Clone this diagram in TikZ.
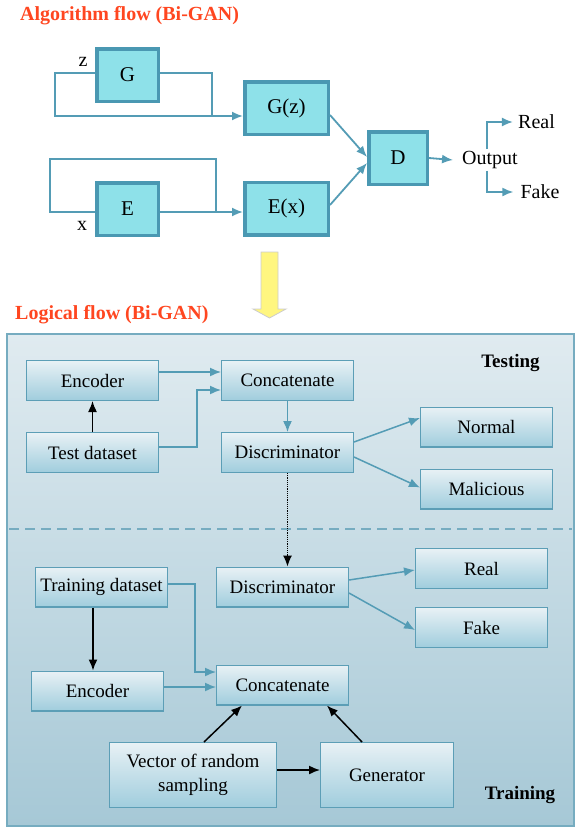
\documentclass[tikz,border=0pt]{standalone}
\usepackage{fontspec}
\setmainfont{LiberationSerif}[Extension=.ttf, UprightFont=*-Regular, BoldFont=*-Bold, ItalicFont=*-Italic, BoldItalicFont=*-BoldItalic]
\usetikzlibrary{positioning,calc,arrows.meta,shapes}

\definecolor{titlered}{RGB}{255,70,32}
\definecolor{gboxfill}{RGB}{142,225,233}
\definecolor{gboxline}{RGB}{74,152,178}
\definecolor{flowline}{RGB}{84,156,181}
\definecolor{paneltop}{RGB}{224,235,240}
\definecolor{panelbot}{RGB}{166,200,214}
\definecolor{panelline}{RGB}{118,172,192}
\definecolor{sboxtop}{RGB}{232,241,245}
\definecolor{sboxbot}{RGB}{160,205,221}
\definecolor{sboxline}{RGB}{92,158,182}
\definecolor{arrowyellow}{RGB}{255,246,128}

\begin{document}
\begin{tikzpicture}[
        x=1pt, y=-1pt,
        tip/.tip={Latex[length=11pt,width=9pt]},
        >=tip,
        title/.style={anchor=west, inner sep=0pt, font=\fontsize{20}{20}\selectfont\bfseries, text=titlered},
        gbox/.style={draw=gboxline, line width=3.5pt, fill=gboxfill, minimum height=52.5pt, inner sep=0pt, font=\fontsize{21}{21}\selectfont},
        sbox/.style={draw=sboxline, line width=1.3pt, top color=sboxtop, bottom color=sboxbot, minimum width=131.7pt, minimum height=39.7pt, inner sep=0pt, align=center, font=\fontsize{19}{24}\selectfont},
        plain/.style={inner sep=2pt, font=\fontsize{20}{20}\selectfont},
        zonetag/.style={inner sep=0pt, font=\fontsize{19}{19}\selectfont\bfseries},
        flow/.style={draw=flowline, line width=1.8pt},
        link/.style={draw=flowline, line width=1.5pt},
        blk/.style={draw=black, line width=1.5pt}
      ]
      \useasboundingbox (0,0) rectangle (576,827);

      % algorithm flow
      \node (algo) at (20,16) [title] {Algorithm flow (Bi-GAN)};
      \node (G) at (127.5,75) [gbox, minimum width=61.5pt] {G};
      \node (Gz) at (286.5,108) [gbox, minimum width=83.5pt] {G(z)};
      \node (E) at (127.5,209) [gbox, minimum width=61.5pt] {E};
      \node (Ex) at (286.5,208.5) [gbox, minimum width=83.5pt] {E(x)};
      \node (D) at (398,158) [gbox, minimum width=58.5pt] {D};
      \node (Out) at (490,160) [plain] {Output};
      \node (Real) at (536.5,122) [plain] {Real};
      \node (Fake) at (540,192) [plain] {Fake};
      \node (z) at (83,62) [plain] {z};
      \node (x) at (82,226) [plain] {x};

      \draw[flow,-tip] ([yshift=2pt]G.west) -- ++(-40,0) |- ([yshift=-8pt]Gz.west);
      \draw[flow] ([yshift=2pt]G.east) -- ++(52,0) -- ++(0,43);
      \draw[flow] ([yshift=-3pt]E.west) -- ++(-45,0) -- ++(0,-53) -- ++(166,0) -- ++(0,53);
      \draw[flow,-tip] ([yshift=-3pt]E.east) -- ([yshift=-3pt]E.east -| Ex.west);
      \draw[flow,-tip] ([yshift=-7pt]Gz.east) -- ([yshift=1pt]D.west);
      \draw[flow,-tip] ([yshift=3.5pt]Ex.east) -- ([yshift=-5pt]D.west);
      \draw[flow,-tip] (D.east) -- ([xshift=-7pt]Out.west);
      \draw[flow,-tip] ([xshift=-3pt]Out.north) |- ([xshift=-3pt]Real.west);
      \draw[flow,-tip] ([xshift=-3pt]Out.south) |- ([xshift=-5pt]Fake.west);

      % big yellow arrow
      \draw[draw=black!20, fill=arrowyellow, line width=0.8pt]
        (261,252) -- (278,252) -- (278,309) -- (286,309) -- (269.5,318) -- (253,309) -- (261,309) -- cycle;

      % logical flow
      \node (logic) at (15,315) [title] {Logical flow (Bi-GAN)};
      \draw[draw=panelline, line width=1.8pt, top color=paneltop, bottom color=panelbot]
        (7,334) rectangle (574,826);
      \draw[draw=panelline, line width=1.6pt, dash pattern=on 10pt off 6pt] (9,529) -- (572,529);
      \node (testing) at (510.5,363) [zonetag] {Testing};
      \node (training) at (520,795) [zonetag] {Training};

      \node (EncT) at (92.5,380.5) [sbox] {Encoder};
      \node (TestD) [sbox, below=31pt of EncT] {Test dataset};
      \node (ConcT) at (287.5,380.5) [sbox] {Concatenate};
      \node (DiscT) [sbox, below=31pt of ConcT] {Discriminator};
      \node (Normal) at (486.5,427) [sbox] {Normal};
      \node (Malicious) [sbox, below=21pt of Normal] {Malicious};

      \node (TrainD) at (101.5,587) [sbox] {Training dataset};
      \node (EncB) at (97.5,691) [sbox] {Encoder};
      \node (DiscB) at (282.5,587) [sbox] {Discriminator};
      \node (ConcB) at (282.5,685) [sbox] {Concatenate};
      \node (Real2) at (481.5,568.5) [sbox] {Real};
      \node (Fake2) [sbox, below=18pt of Real2] {Fake};
      \node (Vector) at (193,775) [sbox, minimum width=166.7pt, minimum height=64.7pt] {Vector of random\\sampling};
      \node (Gen) [sbox, right=43pt of Vector, minimum width=132.7pt, minimum height=64.7pt] {Generator};

      \draw[link,-tip] ([yshift=8.5pt]EncT.east) -- ([yshift=8.5pt]EncT.east -| ConcT.west);
      \draw[link,-tip] ([yshift=5.5pt]TestD.east) -- ++(38,0) |- ([yshift=-9.5pt]ConcT.west);
      \draw[blk,-tip] (TestD.north) -- (EncT.south);
      \draw[link,-tip] (ConcT.south) -- (DiscT.north);
      \draw[link,-tip] ([yshift=10.5pt]DiscT.east) -- ([yshift=9pt]Normal.west);
      \draw[link,-tip] ([yshift=-4.5pt]DiscT.east) -- ([yshift=1.5pt]Malicious.west);
      \draw[blk, line width=1.2pt, densely dotted, -tip] (DiscT.south) -- (DiscT.south |- DiscB.north);

      \draw[blk,-tip] ([xshift=-8.5pt]TrainD.south) -- ([xshift=-8.5pt]TrainD.south |- EncB.north);
      \draw[link,-tip] ([yshift=3pt]TrainD.east) -- ++(27,0) |- ([yshift=13pt]ConcB.west);
      \draw[link,-tip] ([yshift=4pt]EncB.east) -- ([yshift=4pt]EncB.east -| ConcB.west);
      \draw[link,-tip] ([yshift=7pt]DiscB.east) -- ([yshift=-1.5pt]Real2.west);
      \draw[link,-tip] ([yshift=-6pt]DiscB.east) -- ([yshift=-2.5pt]Fake2.west);
      \draw[blk,-tip] ([xshift=11pt]Vector.north) -- ([xshift=-40.5pt]ConcB.south);
      \draw[blk,-tip] ([xshift=-25pt]Gen.north) -- ([xshift=44.5pt]ConcB.south);
      \draw[blk,-tip] ([yshift=5pt]Vector.east) -- ([yshift=5pt]Vector.east -| Gen.west);
    \end{tikzpicture}
\end{document}
